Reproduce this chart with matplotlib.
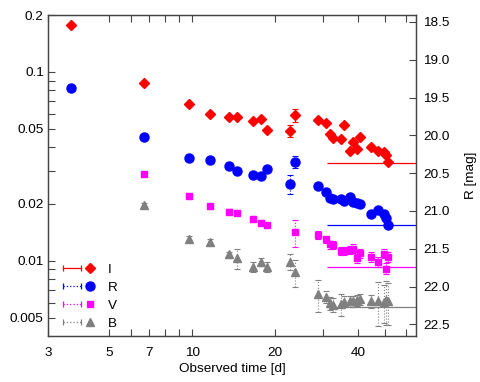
import numpy as np
import matplotlib
matplotlib.use("Agg")
import matplotlib.pyplot as plt
from matplotlib.lines import Line2D
from matplotlib.legend_handler import HandlerLine2D, HandlerTuple
from matplotlib.ticker import FixedLocator, NullFormatter, FixedFormatter

plt.rcParams['font.family'] = ['Liberation Sans', 'DejaVu Sans']

# ---------------- data ----------------
t_I = [3.64, 6.70, 9.71, 11.6, 13.6, 14.6, 16.7, 17.8, 18.7, 22.6, 23.6,
       28.6, 30.6, 31.7, 32.6, 34.6, 35.6, 37.5, 38.5, 39.6, 40.6, 44.6, 47.4, 49.7, 50.6, 51.6]
f_I = [0.177, 0.0873, 0.0676, 0.0599, 0.0576, 0.0576, 0.0548, 0.0561, 0.0493, 0.0488, 0.0588,
       0.0556, 0.0536, 0.0467, 0.0446, 0.0441, 0.0525, 0.0383, 0.0427, 0.0390, 0.0450,
       0.0399, 0.0383, 0.0378, 0.0364, 0.0333]
e_I = [0.004, 0.002, 0.0015, 0.0013, 0.0013, 0.0013, 0.0013, 0.0013, 0.0012, 0.0035, 0.0045,
       0.0012, 0.0012, 0.0011, 0.0011, 0.0011, 0.0012, 0.0010, 0.0010, 0.0010, 0.0011,
       0.0010, 0.0010, 0.0010, 0.0010, 0.0009]

t_R = [3.64, 6.70, 9.71, 11.6, 13.6, 14.6, 16.7, 17.8, 18.7, 22.6, 23.6,
       28.6, 30.6, 31.7, 32.6, 34.6, 35.6, 37.5, 38.5, 39.6, 40.6, 44.6, 47.4, 49.7, 50.6, 51.6]
f_R = [0.0822, 0.0454, 0.0351, 0.0342, 0.0316, 0.0300, 0.0286, 0.0280, 0.0305, 0.0255, 0.0334,
       0.0250, 0.0232, 0.0216, 0.0212, 0.0212, 0.0208, 0.0217, 0.0206, 0.0202, 0.0200,
       0.0177, 0.0186, 0.0177, 0.0168, 0.0154]
e_R = [0.0015, 0.0009, 0.0007, 0.0007, 0.0006, 0.0006, 0.0006, 0.0006, 0.0006, 0.0030, 0.0025,
       0.0005, 0.0005, 0.0004, 0.0004, 0.0004, 0.0004, 0.0004, 0.0004, 0.0004, 0.0004,
       0.0004, 0.0004, 0.0004, 0.0004, 0.0004]

t_V = [6.70, 9.71, 11.6, 13.6, 14.6, 16.7, 17.8, 18.7, 23.6,
       28.6, 30.6, 31.7, 32.6, 34.6, 35.6, 37.5, 38.5, 39.6, 40.6, 44.6, 47.4, 49.7, 50.6, 51.6]
f_V = [0.0288, 0.0221, 0.0194, 0.0182, 0.0179, 0.0167, 0.0159, 0.0154, 0.0142,
       0.0137, 0.0130, 0.0122, 0.0121, 0.0113, 0.0113, 0.0114, 0.0116, 0.0103, 0.0110,
       0.0105, 0.0099, 0.0109, 0.0091, 0.0105]
e_V = [0.0007, 0.0006, 0.0005, 0.0005, 0.0005, 0.0005, 0.0005, 0.0005, 0.0023,
       0.0006, 0.0006, 0.0006, 0.0006, 0.0006, 0.0006, 0.0006, 0.0006, 0.0006, 0.0006,
       0.0006, 0.0006, 0.0006, 0.0006, 0.0006]

t_B = [6.70, 9.71, 11.6, 13.6, 14.6, 16.7, 17.8, 18.7, 22.6, 23.6,
       28.6, 30.6, 31.7, 32.6, 34.6, 35.6, 37.5, 38.5, 39.6, 40.6, 44.6, 47.4, 49.7, 50.6, 51.6]
f_B = [0.0198, 0.0131, 0.0126, 0.0108, 0.0103, 0.0093, 0.0099, 0.0093, 0.0099, 0.0087,
       0.00665, 0.00645, 0.00596, 0.00585, 0.0059, 0.00608, 0.0061, 0.0061, 0.0062, 0.00625,
       0.0061, 0.0061, 0.00608, 0.0062, 0.0061]
e_B = [0.0004, 0.0004, 0.0004, 0.0004, 0.0012, 0.0006, 0.0005, 0.0006, 0.0010, 0.0014,
       0.0013, 0.0005, 0.0005, 0.0005, 0.0008, 0.0004, 0.0004, 0.0004, 0.0004, 0.0004,
       0.0005, 0.0016, 0.0014, 0.0016, 0.0015]

# host / limit levels (flux) and their start time
host_levels = {'I': 0.0331, 'R': 0.01554, 'V': 0.00922, 'B': 0.00571}
host_start = 30.8

band_names = ['I', 'R', 'V', 'B']
colors = {'I': '#ff0000', 'R': '#0000ff', 'V': '#ff00ff', 'B': '#808080'}
markers = {'I': 'D', 'R': 'o', 'V': 's', 'B': '^'}
msizes = {'I': 4.6, 'R': 6.5, 'V': 4.8, 'B': 6.2}
estyles = {'I': '-', 'R': ':', 'V': ':', 'B': ':'}
data = {'I': (t_I, f_I, e_I), 'R': (t_R, f_R, e_R), 'V': (t_V, f_V, e_V), 'B': (t_B, f_B, e_B)}

xticks_major = [3, 5, 7, 10, 20, 40]
xticks_minor = [6, 8, 9, 30, 50, 60]
yticks_major = [0.005, 0.01, 0.02, 0.05, 0.1, 0.2]
ytick_labels = ['0.005', '0.01', '0.02', '0.05', '0.1', '0.2']
yticks_minor = [0.006, 0.007, 0.008, 0.009, 0.03, 0.04, 0.06, 0.07, 0.08, 0.09]
mag_ticks = [18.5, 19.0, 19.5, 20.0, 20.5, 21.0, 21.5, 22.0, 22.5]
ZP = 16.66
xlim = (3, 65)
ylim = (0.004, 0.2)

FS = 9.7
spine_col = '#454545'

fig = plt.figure(figsize=(4.8, 3.82), dpi=100)
ax = fig.add_axes([48/480, 1-336/382, (416-48)/480, (336-15)/382])
ax.set_xscale('log')
ax.set_yscale('log')
ax.set_xlim(*xlim)
ax.set_ylim(*ylim)

for b in band_names:
    t, f, e = data[b]
    c = colors[b]
    eb = ax.errorbar(t, f, yerr=e, fmt=markers[b], color=c, ecolor=c, ms=msizes[b],
                     mec=c, mfc=c, elinewidth=0.8, capsize=2, capthick=0.8, zorder=3)
    eb[2][0].set_linestyle(estyles[b])
    ax.hlines(host_levels[b], host_start, xlim[1], color=c, lw=0.9, zorder=2)

ax.xaxis.set_major_locator(FixedLocator(xticks_major))
ax.xaxis.set_major_formatter(FixedFormatter([str(v) for v in xticks_major]))
ax.xaxis.set_minor_locator(FixedLocator(xticks_minor))
ax.xaxis.set_minor_formatter(NullFormatter())
ax.yaxis.set_major_locator(FixedLocator(yticks_major))
ax.yaxis.set_major_formatter(FixedFormatter(ytick_labels))
ax.yaxis.set_minor_locator(FixedLocator(yticks_minor))
ax.yaxis.set_minor_formatter(NullFormatter())

ax.tick_params(axis='both', which='both', direction='in', length=5, width=0.8,
               color=spine_col, labelsize=FS)
ax.tick_params(axis='x', which='both', top=True, bottom=True, pad=8)
ax.tick_params(axis='y', which='both', left=True, right=False, pad=3)
for s in ax.spines.values():
    s.set_color(spine_col)
    s.set_linewidth(0.9)

ax.set_xlabel('Observed time [d]', fontsize=FS, labelpad=3)

ax2 = ax.twinx()
ax2.set_ylim(ZP - 2.5*np.log10(ylim[0]), ZP - 2.5*np.log10(ylim[1]))
ax2.set_yticks(mag_ticks)
ax2.set_yticklabels(['%.1f' % m for m in mag_ticks])
ax2.tick_params(axis='y', direction='in', length=5, width=0.8, color=spine_col,
                labelsize=FS, pad=5)
for s in ax2.spines.values():
    s.set_color(spine_col)
    s.set_linewidth(0.9)
ax2.set_ylabel('R [mag]', fontsize=FS, labelpad=11)

# legend
handles = []
hmap = {}
for b in band_names:
    c = colors[b]
    capline = Line2D([], [], color=c, ls=estyles[b], lw=0.9, marker='|', ms=5, mew=0.9)
    mk = Line2D([], [], color=c, ls='none', marker=markers[b], ms=msizes[b])
    handles.append((capline, mk))
    hmap[capline] = HandlerLine2D(numpoints=2, marker_pad=0)
labels = band_names
leg = ax.legend(handles, labels, handler_map={**hmap, tuple: HandlerTuple(ndivide=None, pad=0)},
                loc='lower left', bbox_to_anchor=(15/368, 6/321), borderaxespad=0,
                frameon=False, fontsize=FS, handlelength=2.7, handletextpad=0.6,
                labelspacing=0.42, borderpad=0)

fig.savefig('out.png', dpi=100)
